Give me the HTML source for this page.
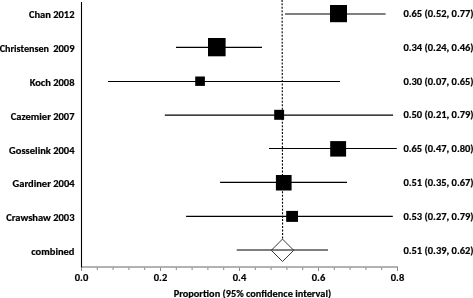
<!DOCTYPE html><html><head><meta charset="utf-8"><title>Forest plot</title><style>html,body{margin:0;padding:0;background:#fff;overflow:hidden}svg{display:block}</style></head><body>
<svg width="473" height="298" viewBox="0 0 473 298">
<rect width="473" height="298" fill="#fff"/>
<line x1="282.1" y1="0" x2="282.6" y2="239.3" stroke="#000" stroke-width="1.1" stroke-dasharray="2 1.48" stroke-dashoffset="0.12"/>
<line x1="81" y1="267" x2="398" y2="267" stroke="#666" stroke-width="1"/>
<line x1="81.50" y1="267.5" x2="81.50" y2="271" stroke="#888" stroke-width="1"/>
<line x1="97.30" y1="267.5" x2="97.30" y2="270" stroke="#888" stroke-width="1"/>
<line x1="113.10" y1="267.5" x2="113.10" y2="270" stroke="#888" stroke-width="1"/>
<line x1="128.90" y1="267.5" x2="128.90" y2="270" stroke="#888" stroke-width="1"/>
<line x1="144.70" y1="267.5" x2="144.70" y2="270" stroke="#888" stroke-width="1"/>
<line x1="160.50" y1="267.5" x2="160.50" y2="271" stroke="#888" stroke-width="1"/>
<line x1="176.30" y1="267.5" x2="176.30" y2="270" stroke="#888" stroke-width="1"/>
<line x1="192.10" y1="267.5" x2="192.10" y2="270" stroke="#888" stroke-width="1"/>
<line x1="207.90" y1="267.5" x2="207.90" y2="270" stroke="#888" stroke-width="1"/>
<line x1="223.70" y1="267.5" x2="223.70" y2="270" stroke="#888" stroke-width="1"/>
<line x1="239.50" y1="267.5" x2="239.50" y2="271" stroke="#888" stroke-width="1"/>
<line x1="255.30" y1="267.5" x2="255.30" y2="270" stroke="#888" stroke-width="1"/>
<line x1="271.10" y1="267.5" x2="271.10" y2="270" stroke="#888" stroke-width="1"/>
<line x1="286.90" y1="267.5" x2="286.90" y2="270" stroke="#888" stroke-width="1"/>
<line x1="302.70" y1="267.5" x2="302.70" y2="270" stroke="#888" stroke-width="1"/>
<line x1="318.50" y1="267.5" x2="318.50" y2="271" stroke="#888" stroke-width="1"/>
<line x1="334.30" y1="267.5" x2="334.30" y2="270" stroke="#888" stroke-width="1"/>
<line x1="350.10" y1="267.5" x2="350.10" y2="270" stroke="#888" stroke-width="1"/>
<line x1="365.90" y1="267.5" x2="365.90" y2="270" stroke="#888" stroke-width="1"/>
<line x1="381.70" y1="267.5" x2="381.70" y2="270" stroke="#888" stroke-width="1"/>
<line x1="397.50" y1="267.5" x2="397.50" y2="271" stroke="#888" stroke-width="1"/>
<line x1="81.5" y1="2" x2="81.5" y2="267.5" stroke="#000" stroke-width="1.1"/>
<line x1="285.0" y1="14.0" x2="385.6" y2="14.0" stroke="#000" stroke-width="1.2"/>
<rect x="330.0" y="5.0" width="17.0" height="17.2" fill="#000"/>
<line x1="176.0" y1="47.4" x2="262.0" y2="47.4" stroke="#000" stroke-width="1.2"/>
<rect x="208.0" y="38.0" width="17.6" height="18.3" fill="#000"/>
<line x1="108.0" y1="81.5" x2="340.0" y2="81.5" stroke="#000" stroke-width="1.2"/>
<rect x="195.2" y="76.5" width="9.7" height="9.4" fill="#000"/>
<line x1="164.8" y1="115.1" x2="393.1" y2="115.1" stroke="#000" stroke-width="1.2"/>
<rect x="274.2" y="109.8" width="9.9" height="10.0" fill="#000"/>
<line x1="269.0" y1="148.5" x2="396.8" y2="148.5" stroke="#000" stroke-width="1.2"/>
<rect x="330.2" y="141.1" width="15.9" height="15.5" fill="#000"/>
<line x1="220.1" y1="182.3" x2="347.0" y2="182.3" stroke="#000" stroke-width="1.2"/>
<rect x="275.9" y="175.0" width="15.7" height="15.5" fill="#000"/>
<line x1="186.1" y1="216.4" x2="392.8" y2="216.4" stroke="#000" stroke-width="1.2"/>
<rect x="286.2" y="210.9" width="11.8" height="11.0" fill="#000"/>
<line x1="236.7" y1="250.0" x2="328.0" y2="250.0" stroke="#000" stroke-width="1.2"/>
<polygon points="282.5,239.1 293.7,250.3 282.5,261.5 271.3,250.3" fill="none" stroke="#222" stroke-width="0.9"/>
<g font-family="Carlito, 'Liberation Sans', sans-serif" font-size="10.5" font-weight="bold" fill="#000" stroke="#000" stroke-width="0.2">
<text transform="translate(74.5,17.90) scale(1,1.0)" text-anchor="end" textLength="45.61" lengthAdjust="spacingAndGlyphs">Chan 2012</text>
<text transform="translate(403.4,17.00) scale(1,1.0)" textLength="70.21" lengthAdjust="spacingAndGlyphs">0.65 (0.52, 0.77)</text>
<text transform="translate(74.5,51.80) scale(1,1.0)" text-anchor="end">2009</text>
<text transform="translate(49.0,51.80) scale(1,1.0)" text-anchor="end" textLength="49.3" lengthAdjust="spacingAndGlyphs">Christensen</text>
<text transform="translate(403.4,50.81) scale(1,1.0)" textLength="70.21" lengthAdjust="spacingAndGlyphs">0.34 (0.24, 0.46)</text>
<text transform="translate(74.5,85.70) scale(1,1.0)" text-anchor="end" textLength="44.85" lengthAdjust="spacingAndGlyphs">Koch 2008</text>
<text transform="translate(403.4,84.62) scale(1,1.0)" textLength="70.21" lengthAdjust="spacingAndGlyphs">0.30 (0.07, 0.65)</text>
<text transform="translate(74.5,119.60) scale(1,1.0)" text-anchor="end" textLength="63.72" lengthAdjust="spacingAndGlyphs">Cazemier 2007</text>
<text transform="translate(403.4,118.43) scale(1,1.0)" textLength="70.21" lengthAdjust="spacingAndGlyphs">0.50 (0.21, 0.79)</text>
<text transform="translate(74.5,153.50) scale(1,1.0)" text-anchor="end" textLength="65.41" lengthAdjust="spacingAndGlyphs">Gosselink 2004</text>
<text transform="translate(403.4,152.24) scale(1,1.0)" textLength="70.21" lengthAdjust="spacingAndGlyphs">0.65 (0.47, 0.80)</text>
<text transform="translate(74.5,187.40) scale(1,1.0)" text-anchor="end" textLength="61.92" lengthAdjust="spacingAndGlyphs">Gardiner 2004</text>
<text transform="translate(403.4,186.05) scale(1,1.0)" textLength="70.21" lengthAdjust="spacingAndGlyphs">0.51 (0.35, 0.67)</text>
<text transform="translate(74.5,221.30) scale(1,1.0)" text-anchor="end" textLength="68.24" lengthAdjust="spacingAndGlyphs">Crawshaw 2003</text>
<text transform="translate(403.4,219.86) scale(1,1.0)" textLength="70.21" lengthAdjust="spacingAndGlyphs">0.53 (0.27, 0.79)</text>
<text transform="translate(74.5,255.20) scale(1,1.0)" text-anchor="end" textLength="43.23" lengthAdjust="spacingAndGlyphs">combined</text>
<text transform="translate(403.4,253.67) scale(1,1.0)" textLength="70.21" lengthAdjust="spacingAndGlyphs">0.51 (0.39, 0.62)</text>
<text x="81.5" y="281" text-anchor="middle" textLength="13.45" lengthAdjust="spacingAndGlyphs">0.0</text>
<text x="160.5" y="281" text-anchor="middle" textLength="13.45" lengthAdjust="spacingAndGlyphs">0.2</text>
<text x="239.5" y="281" text-anchor="middle" textLength="13.45" lengthAdjust="spacingAndGlyphs">0.4</text>
<text x="318.5" y="281" text-anchor="middle" textLength="13.45" lengthAdjust="spacingAndGlyphs">0.6</text>
<text x="397.5" y="281" text-anchor="middle" textLength="13.45" lengthAdjust="spacingAndGlyphs">0.8</text>
<text x="173.7" y="296.6" textLength="157.5" lengthAdjust="spacingAndGlyphs">Proportion (95% confidence interval)</text>
</g></svg></body></html>
